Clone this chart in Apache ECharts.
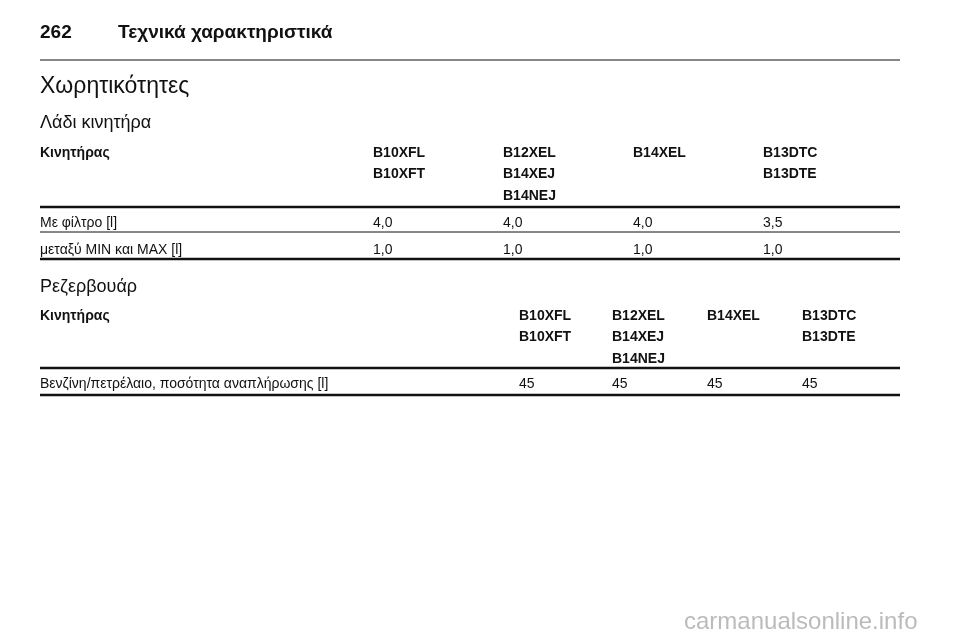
<!DOCTYPE html>
<html><head><meta charset="utf-8">
<script src="https://cdn.jsdelivr.net/npm/echarts@6/dist/echarts.min.js"></script>
<style>html,body{margin:0;background:#fff}#c{width:960px;height:642px}</style>
</head><body><div id="c"></div>
<script>
// table data
const oilHeader = ['Κινητήρας', 'B10XFL\nB10XFT', 'B12XEL\nB14XEJ\nB14NEJ', 'B14XEL', 'B13DTC\nB13DTE'];
const oilRows = [
  ['Με φίλτρο [l]', '4,0', '4,0', '4,0', '3,5'],
  ['μεταξύ MIN και MAX [l]', '1,0', '1,0', '1,0', '1,0']
];
const tankHeader = ['Κινητήρας', 'B10XFL\nB10XFT', 'B12XEL\nB14XEJ\nB14NEJ', 'B14XEL', 'B13DTC\nB13DTE'];
const tankRows = [
  ['Βενζίνη/πετρέλαιο, ποσότητα αναπλήρωσης [l]', '45', '45', '45', '45']
];

const font = '"Liberation Sans", Arial, sans-serif';
const g = [];
function txt(x, y, s, size, bold, color) {
  g.push({type: 'text', x: x, y: y, style: {text: s, font: (bold ? 'bold ' : '') + size + 'px ' + font,
    fill: color || '#111', lineHeight: 21.5, textVerticalAlign: 'top'}});
}
function line(y, w) {
  g.push({type: 'line', shape: {x1: 40, y1: y, x2: 900, y2: y}, style: {stroke: '#111', lineWidth: w}});
}

txt(40, 22, '262', 19, true);
txt(118, 22, 'Τεχνικά χαρακτηριστικά', 19, true);
line(60, 1);
txt(40, 76, 'Χωρητικότητες', 23, false);
txt(40, 112, 'Λάδι κινητήρα', 18, false);

const oilCols = [40, 373, 503, 633, 763];
oilHeader.forEach((s, i) => txt(oilCols[i], 142, s, 14, true));
line(207, 2.5);
oilRows.forEach((r, k) => r.forEach((s, i) => txt(oilCols[i], 212 + k * 27, s, 14, false)));
line(232, 1);
line(259, 2.5);

txt(40, 276, 'Ρεζερβουάρ', 18, false);
const tankCols = [40, 519, 612, 707, 802];
tankHeader.forEach((s, i) => txt(tankCols[i], 305, s, 14, true));
line(368, 2.5);
tankRows.forEach((r, k) => r.forEach((s, i) => txt(tankCols[i], 373, s, 14, false)));
line(395, 2.5);

txt(684, 612, 'carmanualsonline.info', 24, false, '#bbb');

const chart = echarts.init(document.getElementById('c'));
chart.setOption({graphic: g});
</script></body></html>
